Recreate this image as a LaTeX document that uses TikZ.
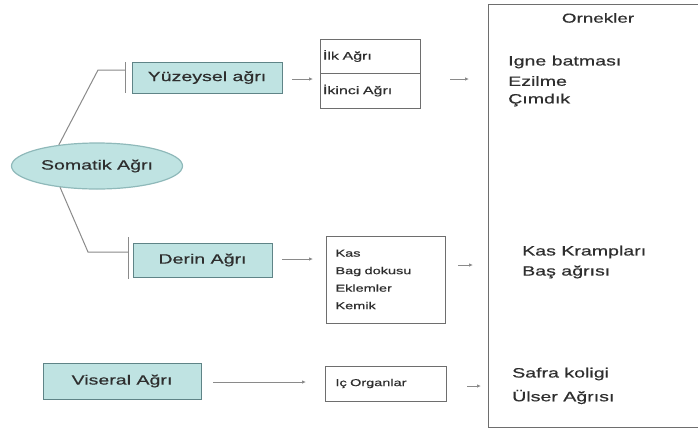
\documentclass[tikz,border=0pt]{standalone}
\usepackage{fontspec}
\setmainfont{Liberation Sans}[FakeStretch=1.45,FakeBold=0.5]
\usetikzlibrary{shapes.geometric,arrows.meta}
\definecolor{tealfill}{HTML}{BFE3E2}
\definecolor{tealedge}{HTML}{5F8487}
\definecolor{elledge}{HTML}{8FB9BA}
\definecolor{txt}{HTML}{2E2E2E}
\definecolor{linec}{HTML}{8A8A8A}
\definecolor{boxedge}{HTML}{6E6E6E}
\tikzset{
  catbox/.style={draw=tealedge, fill=tealfill, line width=0.9pt, inner sep=0pt,
    text=txt, font=\fontsize{13.5}{15}\selectfont},
  subbox/.style={draw=boxedge, fill=white, line width=0.7pt, inner sep=0pt,
    text=txt, font=\fontsize{11}{12}\selectfont},
  lbl/.style={inner sep=0pt, text=txt, anchor=west, font=\fontsize{13.5}{15}\selectfont},
  conn/.style={draw=linec, line width=1pt},
  arr/.style={draw=linec, line width=1pt, -{Latex[length=4pt,width=3.5pt]}},
}
\begin{document}
\begin{tikzpicture}[x=1pt,y=-1pt]
\useasboundingbox[fill=white] (0,0) rectangle (698,429);

% examples box (right side runs past the picture edge)
\draw[draw=boxedge, line width=0.8pt] (720,4) -- (488,4) -- (488,427) -- (720,427);
\node[inner sep=0pt, text=txt, font=\fontsize{13}{14}\selectfont] (ornek) at (598,18) {Ornekler};
\node[lbl] (e1) at (508,62) {Igne batması};
\node[lbl] (e2) at (508,81) {Ezilme};
\node[lbl] (e3) at (508,100) {Çımdık};
\node[lbl] (e4) at (522,252) {Kas Krampları};
\node[lbl] (e5) at (522,272) {Baş ağrısı};
\node[lbl] (e6) at (512,374) {Safra koligi};
\node[lbl] (e7) at (512,397) {Ülser Ağrısı};

% main nodes
\node[ellipse, draw=elledge, fill=tealfill, line width=1.2pt, minimum width=171pt,
  minimum height=46pt, inner sep=0pt, text=txt, font=\fontsize{13.5}{16}\selectfont]
  (som) at (97,166) {Somatik Ağrı};
\node[catbox, minimum width=150pt, minimum height=31pt] (yuz) at (207,77.5) {Yüzeysel ağrı};
\node[catbox, minimum width=139pt, minimum height=34pt] (der) at (202.5,260) {Derin Ağrı};
\node[catbox, minimum width=158pt, minimum height=36pt] (vis) at (122,381) {Viseral Ağrı};

% sub boxes
\node[subbox, minimum width=100pt, minimum height=34pt, text width=94pt, align=left]
  (ilk) at (370,56) {İlk Ağrı};
\node[subbox, minimum width=100pt, minimum height=35pt, text width=94pt, align=left]
  (ikinci) at (370,90.5) {İkinci Ağrı};
\node[subbox, minimum width=119pt, minimum height=87pt, text width=100pt, align=left,
  font=\fontsize{10}{17.5}\selectfont] (kas) at (385.5,279.5) {Kas\\Bag dokusu\\Eklemler\\Kemik};
\node[subbox, minimum width=121pt, minimum height=35pt, text width=100pt, align=left,
  font=\fontsize{10}{12}\selectfont] (ic) at (385.5,383.5) {Iç Organlar};

% tree connectors
\coordinate (b1) at (98,70);
\coordinate (t1) at (125,70);
\coordinate (t1a) at (125,62);
\coordinate (t1b) at (125,93);
\coordinate (b2) at (88,252);
\coordinate (t2) at (128,252);
\coordinate (t2a) at (128,237);
\coordinate (t2b) at (128,279);
\draw[conn] (som.151) -- (b1) -- (t1);
\draw[conn] (t1a) -- (t1b);
\draw[conn] (som.210) -- (b2) -- (t2);
\draw[conn] (t2a) -- (t2b);

% arrows
\coordinate (a1s) at (292,79);
\coordinate (a1e) at (313,79);
\coordinate (a2s) at (450,79);
\coordinate (a2e) at (469,79);
\coordinate (a3s) at (282,259);
\coordinate (a3e) at (313,259);
\coordinate (a4s) at (458,265);
\coordinate (a4e) at (473,265);
\coordinate (a5s) at (213,382);
\coordinate (a5e) at (306,382);
\coordinate (a6s) at (467,386);
\coordinate (a6e) at (481,386);
\draw[arr] (a1s) -- (a1e);
\draw[arr] (a2s) -- (a2e);
\draw[arr] (a3s) -- (a3e);
\draw[arr] (a4s) -- (a4e);
\draw[arr] (a5s) -- (a5e);
\draw[arr] (a6s) -- (a6e);
\end{tikzpicture}
\end{document}
